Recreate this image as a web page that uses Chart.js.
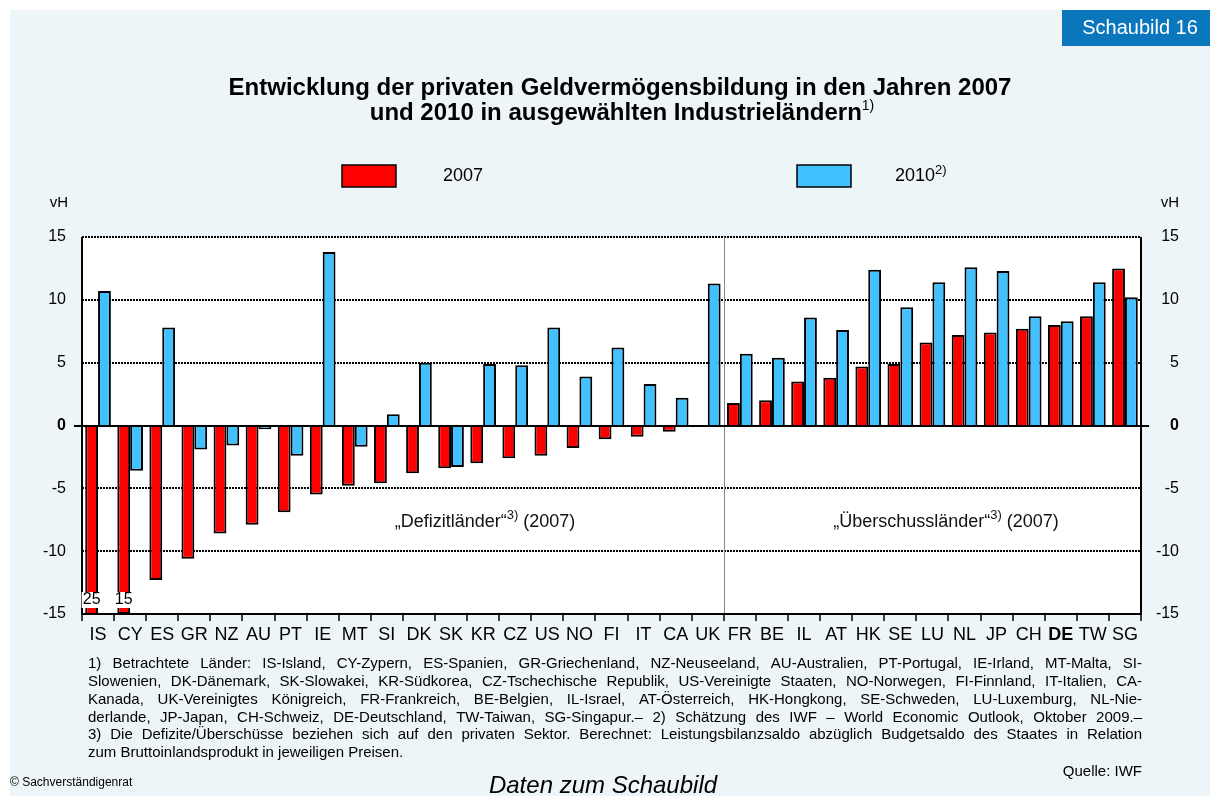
<!DOCTYPE html>
<html>
<head>
<meta charset="utf-8">
<script src="https://cdn.jsdelivr.net/npm/chart.js@4"></script>
<style>
  body { margin: 0; background: #fff; }
</style>
</head>
<body>
<canvas id="chart" width="1210" height="796"></canvas>
<script>
const FONT = "Arial, 'Liberation Sans', sans-serif";

// ===== DATA =====
const categories = ["IS", "CY", "ES", "GR", "NZ", "AU", "PT", "IE", "MT", "SI", "DK", "SK", "KR", "CZ", "US", "NO", "FI", "IT", "CA", "UK",
  "FR", "BE", "IL", "AT", "HK", "SE", "LU", "NL", "JP", "CH", "DE", "TW", "SG"];
const values2007 = [-25, -15, -12.3, -10.6, -8.6, -7.9, -6.9, -5.5, -4.8, -4.6, -3.8, -3.4, -3.0, -2.6, -2.4, -1.8, -1.1, -0.9, -0.5, -0.1,
  1.8, 2.0, 3.5, 3.8, 4.7, 4.9, 6.6, 7.2, 7.4, 7.7, 8.0, 8.7, 12.5];
const values2010 = [10.7, -3.6, 7.8, -1.9, -1.6, -0.3, -2.4, 13.8, -1.7, 0.9, 5.0, -3.3, 4.9, 4.8, 7.8, 3.9, 6.2, 3.3, 2.2, 11.3,
  5.7, 5.4, 8.6, 7.6, 12.4, 9.4, 11.4, 12.6, 12.3, 8.7, 8.3, 11.4, 10.2];
const yMin = -15;
const yMax = 15;
const yStep = 5;
const firstSurplus = "FR"; // erstes "Überschussland"

const footnotes = [
  "1) Betrachtete Länder: IS-Island, CY-Zypern, ES-Spanien, GR-Griechenland, NZ-Neuseeland, AU-Australien, PT-Portugal, IE-Irland, MT-Malta, SI-",
  "Slowenien, DK-Dänemark, SK-Slowakei, KR-Südkorea, CZ-Tschechische Republik, US-Vereinigte Staaten, NO-Norwegen, FI-Finnland, IT-Italien, CA-",
  "Kanada, UK-Vereinigtes Königreich, FR-Frankreich, BE-Belgien, IL-Israel, AT-Österreich, HK-Hongkong, SE-Schweden, LU-Luxemburg, NL-Nie-",
  "derlande, JP-Japan, CH-Schweiz, DE-Deutschland, TW-Taiwan, SG-Singapur.– 2) Schätzung des IWF – World Economic Outlook, Oktober 2009.–",
  "3) Die Defizite/Überschüsse beziehen sich auf den privaten Sektor. Berechnet: Leistungsbilanzsaldo abzüglich Budgetsaldo des Staates in Relation",
  "zum Bruttoinlandsprodukt in jeweiligen Preisen.",
];

// text pieces with superscripts
function drawRuns(ctx, runs, x, y, align) {
  let total = 0;
  runs.forEach((r) => { ctx.font = r.font; total += ctx.measureText(r.t).width; });
  let cx = align === "center" ? x - total / 2 : x;
  ctx.textAlign = "left";
  runs.forEach((r) => {
    ctx.font = r.font;
    ctx.fillText(r.t, cx, y + (r.dy || 0));
    cx += ctx.measureText(r.t).width;
  });
}

function justify(ctx, text, x, y, w) {
  const words = text.split(" ");
  const total = words.reduce((s, wd) => s + ctx.measureText(wd).width, 0);
  const gap = (w - total) / (words.length - 1);
  let cx = x;
  words.forEach((wd) => {
    ctx.fillText(wd, cx, y);
    cx += ctx.measureText(wd).width + gap;
  });
}

const decor = {
  id: "decor",
  beforeDraw(chart) {
    const { ctx, chartArea: a } = chart;
    ctx.save();
    ctx.fillStyle = "#fff";
    ctx.fillRect(0, 0, chart.width, chart.height);
    ctx.fillStyle = "#EDF5F9";
    ctx.fillRect(10, 10, chart.width - 10, chart.height - 10);
    ctx.fillStyle = "#fff";
    ctx.fillRect(a.left, a.top, a.right - a.left, a.bottom - a.top);
    ctx.restore();
  },
  beforeDatasetsDraw(chart) {
    const { ctx, chartArea: a, scales } = chart;
    ctx.save();
    ctx.strokeStyle = "#000";
    ctx.lineWidth = 2;
    ctx.setLineDash([2, 1]);
    for (let v = yMin + yStep; v <= yMax; v += yStep) {
      if (v === 0) continue;
      const y = Math.round(scales.y.getPixelForValue(v));
      ctx.beginPath();
      ctx.moveTo(a.left, y);
      ctx.lineTo(a.right, y);
      ctx.stroke();
    }
    ctx.restore();
  },
  afterDatasetsDraw(chart) {
    const { ctx, chartArea: a, scales } = chart;
    const x = scales.x;
    ctx.save();

    // Trennlinie Defizit / Überschuss
    const idx = categories.indexOf(firstSurplus);
    const sep = Math.round((x.getPixelForValue(idx - 1) + x.getPixelForValue(idx)) / 2) + 0.5;
    ctx.strokeStyle = "#888";
    ctx.lineWidth = 1;
    ctx.beginPath();
    ctx.moveTo(sep, a.top);
    ctx.lineTo(sep, a.bottom);
    ctx.stroke();

    // Nulllinie und Rahmen
    ctx.strokeStyle = "#000";
    ctx.lineWidth = 2;
    const y0 = Math.round(scales.y.getPixelForValue(0));
    ctx.beginPath();
    ctx.moveTo(a.left - 8, y0);
    ctx.lineTo(a.right + 8, y0);
    ctx.moveTo(a.left, a.top);
    ctx.lineTo(a.left, a.bottom);
    ctx.lineTo(a.right, a.bottom);
    ctx.lineTo(a.right, a.top);
    ctx.stroke();

    // x-Ticks zwischen den Kategorien
    ctx.lineWidth = 1.5;
    const step = (a.right - a.left) / categories.length;
    ctx.beginPath();
    for (let i = 0; i <= categories.length; i++) {
      const tx = Math.round(a.left + i * step);
      ctx.moveTo(tx, a.bottom);
      ctx.lineTo(tx, a.bottom + 7);
    }
    ctx.stroke();

    // abgeschnittene Balken beschriften
    const meta = chart.getDatasetMeta(0);
    ctx.font = "16px " + FONT;
    ctx.textAlign = "center";
    ctx.textBaseline = "middle";
    values2007.forEach((v, i) => {
      if (v <= yMin) {
        const bx = meta.data[i].x;
        ctx.fillStyle = "#fff";
        ctx.fillRect(bx - 10, a.bottom - 22, 20, 16);
        ctx.fillStyle = "#000";
        ctx.fillText(String(Math.abs(v)), bx, a.bottom - 14);
      }
    });

    // Gruppenbeschriftungen
    ctx.fillStyle = "#111";
    const ly = 522;
    const n = "18px " + FONT;
    const s = "13px " + FONT;
    drawRuns(ctx, [{ t: "„Defizitländer“", font: n }, { t: "3)", font: s, dy: -7 }, { t: " (2007)", font: n }], 485, ly, "center");
    drawRuns(ctx, [{ t: "„Überschussländer“", font: n }, { t: "3)", font: s, dy: -7 }, { t: " (2007)", font: n }], 946, ly, "center");
    ctx.restore();
  },
  afterDraw(chart) {
    const { ctx } = chart;
    ctx.save();
    ctx.textBaseline = "middle";

    // Schaubild-Nummer
    ctx.fillStyle = "#0A76BC";
    ctx.fillRect(1062, 10, 148, 36);
    ctx.fillStyle = "#fff";
    ctx.font = "20px " + FONT;
    ctx.textAlign = "center";
    ctx.fillText("Schaubild 16", 1140, 28);

    // Titel
    ctx.fillStyle = "#000";
    ctx.font = "bold 24px " + FONT;
    ctx.fillText("Entwicklung der privaten Geldvermögensbildung in den Jahren 2007", 620, 88);
    drawRuns(ctx, [{ t: "und 2010 in ausgewählten Industrieländern", font: "bold 24px " + FONT }, { t: "1)", font: "14px " + FONT, dy: -7 }], 622, 113, "center");

    // Legende
    ctx.lineWidth = 1.5;
    ctx.strokeStyle = "#000";
    ctx.fillStyle = "#FF0000";
    ctx.fillRect(342, 165, 54, 22);
    ctx.strokeRect(342, 165, 54, 22);
    ctx.fillStyle = "#41C1FF";
    ctx.fillRect(797, 165, 54, 22);
    ctx.strokeRect(797, 165, 54, 22);
    ctx.fillStyle = "#000";
    drawRuns(ctx, [{ t: "2007", font: "18px " + FONT }], 443, 176, "left");
    drawRuns(ctx, [{ t: "2010", font: "18px " + FONT }, { t: "2)", font: "13px " + FONT, dy: -6 }], 895, 176, "left");

    // Einheit
    ctx.font = "15px " + FONT;
    ctx.textAlign = "right";
    ctx.fillText("vH", 68, 203);
    ctx.fillText("vH", 1179, 203);

    // Fußnoten: Schriftgröße so, dass die erste Zeile die Breite füllt
    const fw = 1142 - 88;
    ctx.font = "13px " + FONT;
    const fsize = Math.min(15, 13 * fw / ctx.measureText(footnotes[0]).width);
    ctx.font = fsize.toFixed(2) + "px " + FONT;
    ctx.textAlign = "left";
    footnotes.forEach((line, i) => {
      const y = 664 + i * 17.8;
      if (i < footnotes.length - 1) justify(ctx, line, 88, y, fw);
      else ctx.fillText(line, 88, y);
    });
    ctx.textAlign = "right";
    ctx.fillText("Quelle: IWF", 1142, 772);
    ctx.textAlign = "left";
    ctx.font = "12px " + FONT;
    ctx.fillText("© Sachverständigenrat", 10, 783);
    ctx.textAlign = "center";
    ctx.font = "italic 24px " + FONT;
    ctx.fillText("Daten zum Schaubild", 603, 786);
    ctx.restore();
  },
};

const tickFont = (ctx) => ({ family: FONT, size: 16, weight: ctx.tick && ctx.tick.value === 0 ? "bold" : "normal" });

new Chart(document.getElementById("chart"), {
  type: "bar",
  data: {
    labels: categories,
    datasets: [
      { label: "2007", data: values2007, backgroundColor: "#FF0000", borderColor: "#000", borderWidth: 2 },
      { label: "2010", data: values2010, backgroundColor: "#41C1FF", borderColor: "#000", borderWidth: 2 },
    ],
  },
  options: {
    responsive: false,
    animation: false,
    layout: { padding: { left: 0, right: 31, top: 237, bottom: 0 } },
    datasets: { bar: { categoryPercentage: 0.8, barPercentage: 1 } },
    plugins: { legend: { display: false }, title: { display: false }, tooltip: { enabled: false } },
    scales: {
      x: {
        grid: { display: false },
        border: { display: false },
        ticks: {
          color: "#000",
          padding: 2,
          maxRotation: 0,
          autoSkip: false,
          font: (ctx) => ({ family: FONT, size: 18, weight: categories[ctx.index] === "DE" ? "bold" : "normal" }),
        },
        afterFit: (s) => { s.height = 182; },
      },
      y: {
        min: yMin,
        max: yMax,
        grid: { display: false },
        border: { display: false },
        ticks: { stepSize: yStep, color: "#000", padding: 8, font: tickFont },
        afterFit: (s) => { s.width = 82; },
      },
      y2: {
        position: "right",
        min: yMin,
        max: yMax,
        grid: { display: false },
        border: { display: false },
        ticks: { stepSize: yStep, color: "#000", padding: 16, crossAlign: "far", font: tickFont },
        afterFit: (s) => { s.width = 38; },
      },
    },
  },
  plugins: [decor],
});
</script>
</body>
</html>
